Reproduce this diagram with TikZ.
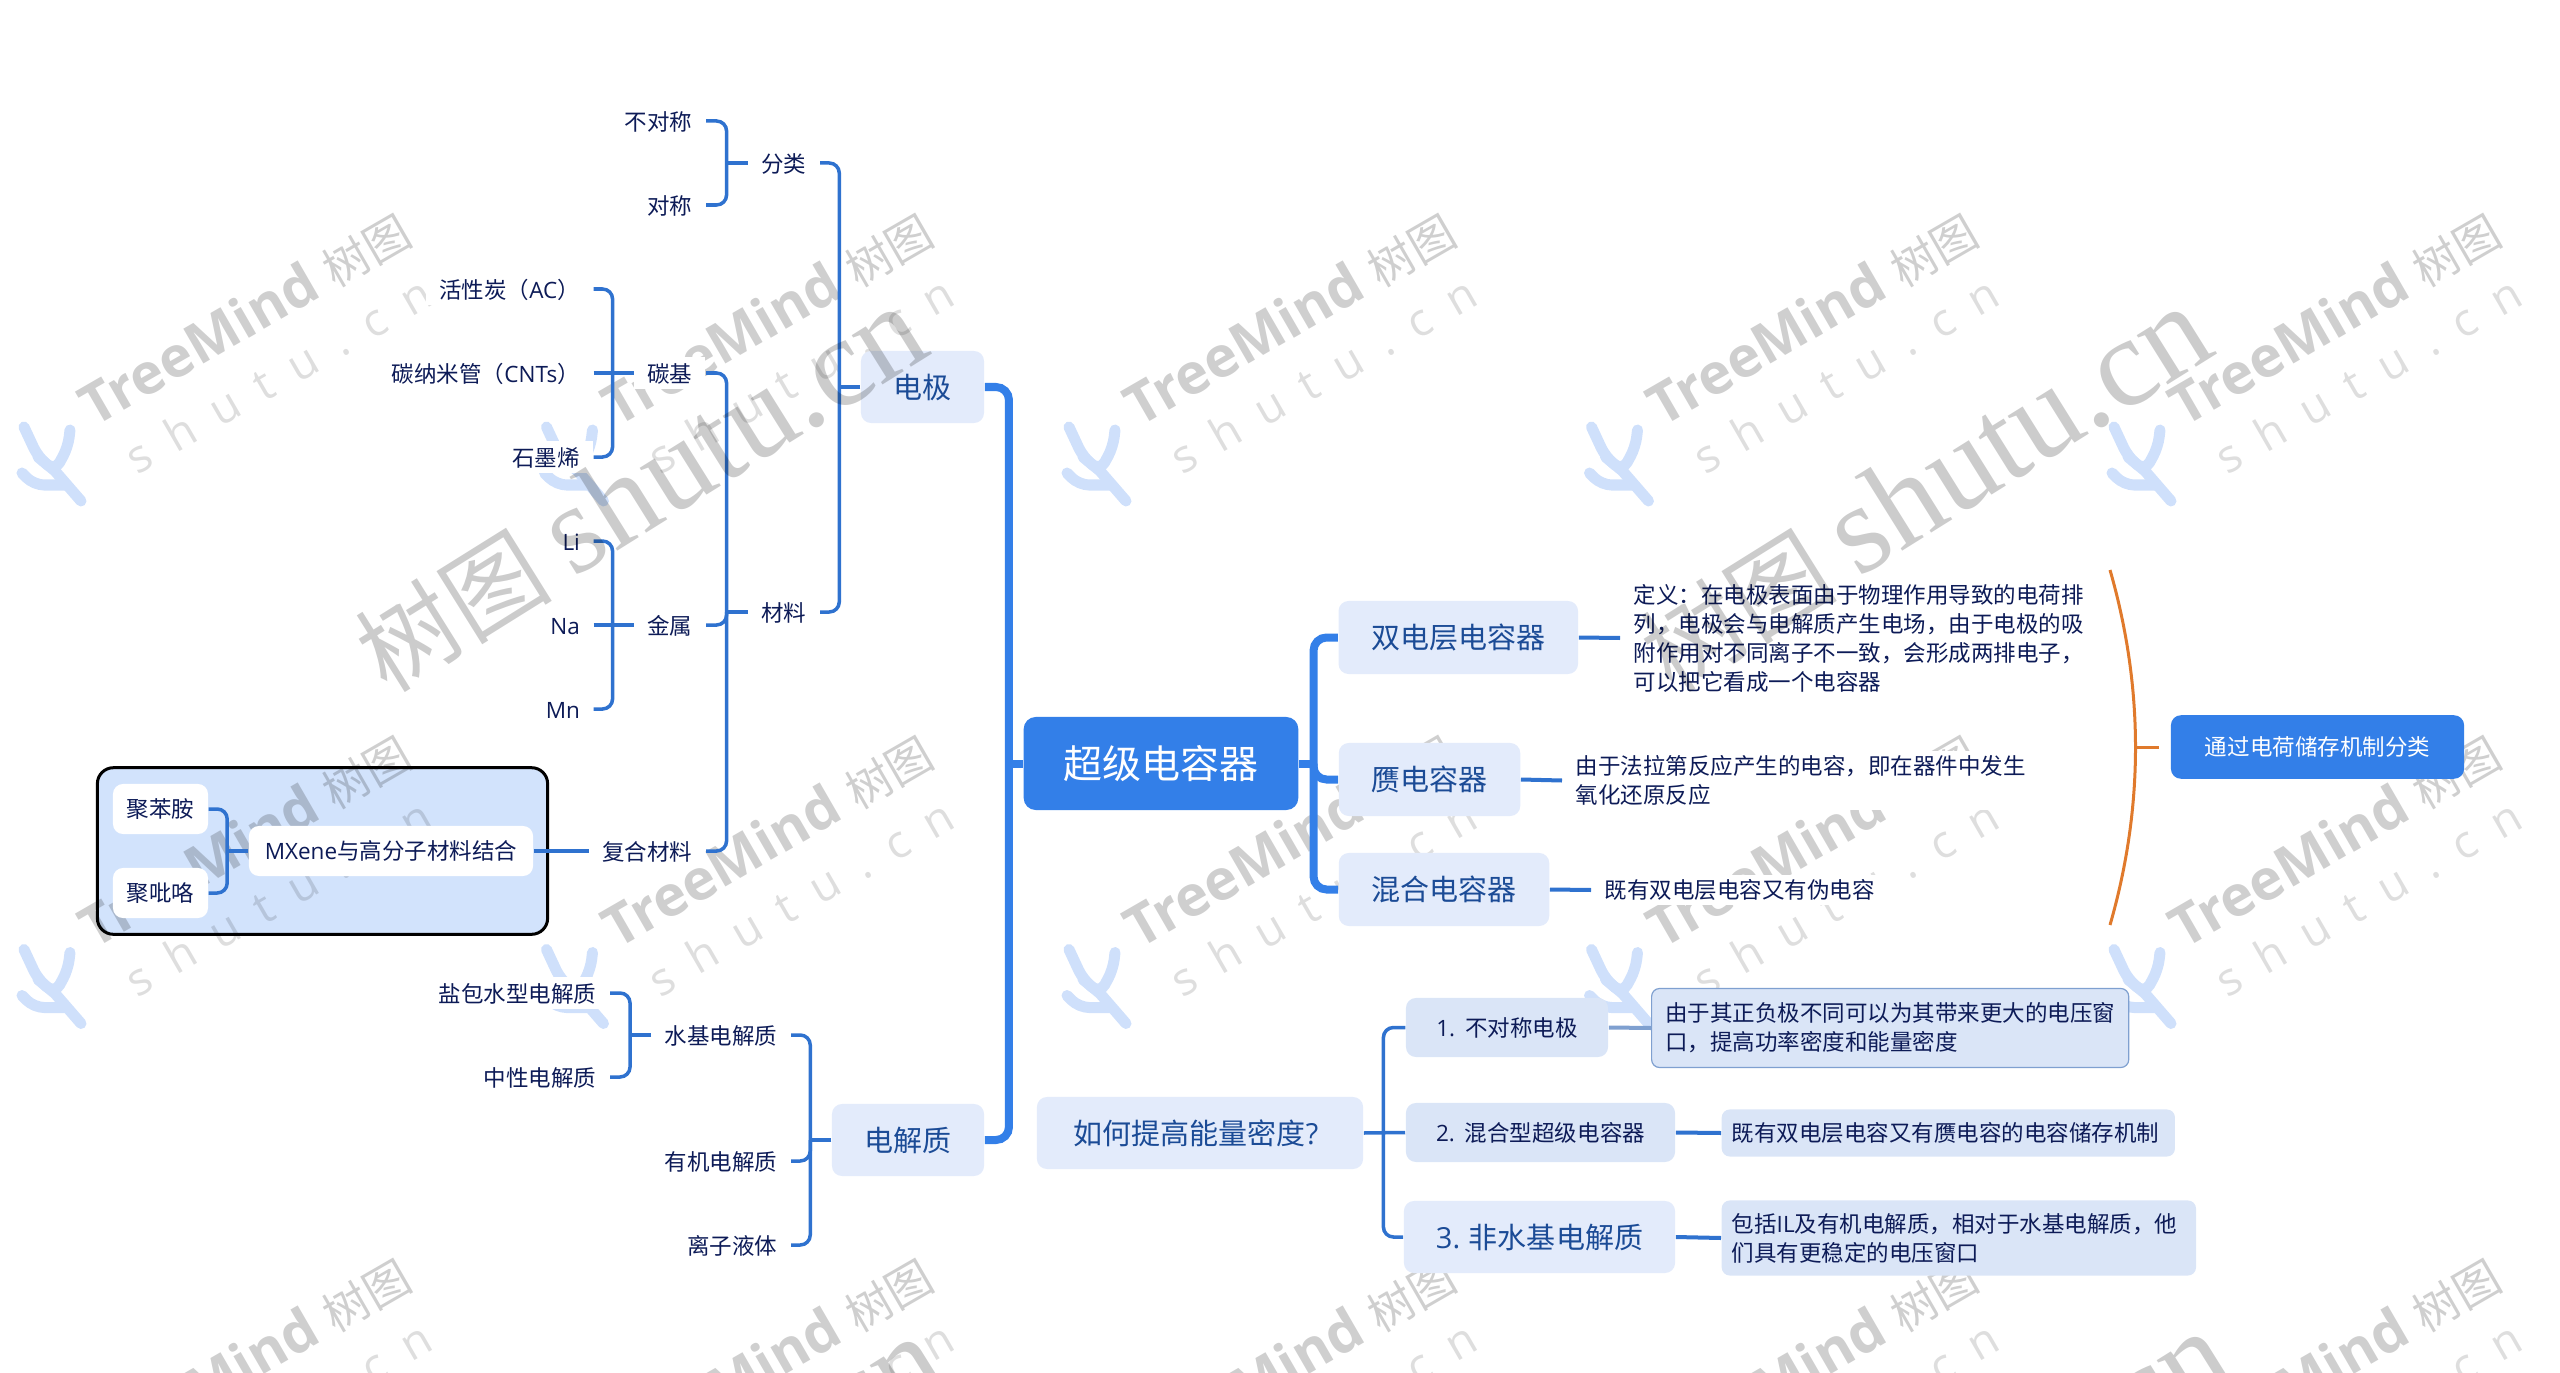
\documentclass[tikz,border=0pt]{standalone}
\usepackage{fontspec}
\setmainfont{Noto Sans CJK SC}
\newfontfamily\opensans{Open Sans}
\newfontfamily\wmspaced[LetterSpace=50]{Open Sans}
\newfontfamily\wmserif{Liberation Serif}
\usetikzlibrary{arrows.meta,positioning,calc}
\definecolor{navy}{HTML}{0D1B57}
\definecolor{inkblue}{HTML}{1B4B96}
\definecolor{mainblue}{HTML}{337FE8}
\definecolor{linkblue}{HTML}{2F72CF}
\definecolor{pale}{HTML}{E3EBFB}
\definecolor{paler}{HTML}{DAE5F7}
\definecolor{frameblue}{HTML}{D2E3FC}
\definecolor{logoblue}{HTML}{CFE0FB}
\definecolor{edge}{HTML}{7FA0D0}
\definecolor{amber}{HTML}{E07A2C}
\tikzset{
leaf/.style={fill=white,text=navy,inner xsep=.13cm,inner ysep=.04cm,text height=6pt,text depth=.6pt,font=\fontsize{6.4pt}{8.25pt}\selectfont},
note/.style={leaf,align=left,text height=,text depth=},
topic/.style={fill=pale,rounded corners=.1cm,text=inkblue,inner sep=0pt,align=center,font=\fontsize{8.25pt}{10pt}\selectfont},
numbox/.style={topic,fill=paler,text=navy,font=\fontsize{6.4pt}{8.25pt}\selectfont},
detail/.style={fill=paler,rounded corners=.08cm,text=navy,inner xsep=.135cm,inner ysep=0pt,align=left,font=\fontsize{6.4pt}{8.25pt}\selectfont},
whitebox/.style={fill=white,rounded corners=.1cm,text=navy,inner sep=0pt,font=\fontsize{6.4pt}{8.25pt}\selectfont},
link/.style={draw=linkblue,line width=.035cm,rounded corners=.1cm},
thicklink/.style={draw=mainblue,line width=.08cm,rounded corners=.13cm},
wmark/.style={text=black,text opacity=.19,rotate=30,inner sep=0pt},
wmtail/.style={text=black,text opacity=.13,rotate=30,inner sep=0pt},
wmbigtext/.style={text=black,text opacity=.2,rotate=32,inner sep=0pt}
}
\begin{document}
\begin{tikzpicture}[x=.01cm,y=-.01cm]
\useasboundingbox (0,0) rectangle (2560,1373);
\node[draw=black,line width=.03cm,fill=frameblue,rounded corners=.16cm,minimum width=4.5cm,minimum height=1.665cm,inner sep=0pt] (frame) at (322.5,851) {};
\foreach \col in {0,...,4}{\foreach \row in {0,1,2}{
\node[wmark] (wmtree\col\row) at ({245+522.5*\col},{318+522.5*\row}) {\fontsize{16pt}{20pt}\selectfont\opensans\bfseries TreeMind\ \normalfont\fontsize{13pt}{15pt}\selectfont 树图};
\node[wmtail] (wmsite\col\row) at ({278+522.5*\col},{375+522.5*\row}) {\fontsize{13pt}{15pt}\selectfont\wmspaced shutu.cn};
\begin{scope}[shift={({46+522.5*\col},{465+522.5*\row})}]
\draw[logoblue,line width=.11cm,line cap=round,rounded corners=.1cm] (-22,-38) -- (-8,-8) -- (9,6) -- (22,-18) -- (24,-35);
\draw[logoblue,line width=.11cm,line cap=round] (-8,-8) -- (9,6) -- (35,36);
\draw[logoblue,line width=.11cm,line cap=round,rounded corners=.1cm] (-24,8) -- (-12,20) -- (20,20);
\end{scope}
}}
\node[fill=mainblue,rounded corners=.12cm,text=white,inner sep=0pt,minimum width=2.745cm,minimum height=.93cm,font=\fontsize{11.1pt}{13pt}\selectfont] (root) at (1161,763.5) {超级电容器};
\node[topic,minimum width=1.23cm,minimum height=.72cm] (dianji) at (922.5,387) {电极};
\node[topic,minimum width=1.52cm,minimum height=.72cm] (dianjiezhi) at (908,1140) {电解质};
\foreach \name/\px/\py/\txt in {fenlei/820/163/分类,cailiao/820/612/材料,buduichen/706/121/不对称,duichen/706/205/对称,tanji/706/373/碳基,jinshu/706/625/金属,fuhe/706/851/复合材料,huoxing/593.6/289/活性炭（{\opensans AC}）,cnt/593.6/373/碳纳米管（{\opensans CNTs}）,shimo/593.6/457/石墨烯,li/593.6/541/{\opensans Li},na/593.6/625/{\opensans Na},mn/593.6/709/{\opensans Mn},shuiji/791/1035/水基电解质,youji/791/1161/有机电解质,lizi/791/1245/离子液体,yanbao/610/993/盐包水型电解质,zhongxing/610/1077/中性电解质}
\node[leaf,anchor=east] (\name) at (\px,\py) {\txt};
\node[whitebox,minimum width=.95cm,minimum height=.5cm] (benan) at (160.5,809) {聚苯胺};
\node[whitebox,minimum width=.95cm,minimum height=.5cm] (bilu) at (160.5,893) {聚吡咯};
\node[whitebox,minimum width=2.84cm,minimum height=.5cm] (mxene) at (391,851) {{\opensans MXene}与高分子材料结合};
\node[topic,minimum width=2.394cm,minimum height=.73cm] (shuang) at (1458.3,637.5) {双电层电容器};
\node[topic,minimum width=1.814cm,minimum height=.73cm] (yan) at (1429.5,779.5) {赝电容器};
\node[topic,minimum width=2.104cm,minimum height=.73cm] (hunhe) at (1444,889.5) {混合电容器};
\node[note,anchor=west] (shuangnote) at (1620,638) {定义：在电极表面由于物理作用导致的电荷排\\列，电极会与电解质产生电场，由于电极的吸\\附作用对不同离子不一致，会形成两排电子，\\可以把它看成一个电容器};
\node[note,anchor=west] (yannote) at (1562,780.5) {由于法拉第反应产生的电容，即在器件中发生\\氧化还原反应};
\node[note,anchor=west] (hunhenote) at (1591,890) {既有双电层电容又有伪电容};
\node[topic,minimum width=3.26cm,minimum height=.72cm] (ruhe) at (1200,1133) {\hspace{-.08cm}如何提高能量密度{\opensans ?}};
\node[numbox,minimum width=2.02cm,minimum height=.59cm] (numone) at (1507,1027.5) {{\opensans 1.}\ \ 不对称电极};
\node[numbox,minimum width=2.69cm,minimum height=.59cm] (numtwo) at (1540.5,1132.5) {{\opensans 2.}\ \ 混合型超级电容器};
\node[topic,minimum width=2.71cm,minimum height=.72cm] (numthree) at (1539.5,1237) {{\opensans 3.} 非水基电解质};
\node[detail,draw=edge,line width=.012cm,minimum height=.79cm,anchor=west] (oneinfo) at (1651,1028) {由于其正负极不同可以为其带来更大的电压窗\\口，提高功率密度和能量密度};
\node[detail,inner xsep=.1cm,text width=4.33cm,minimum height=.47cm,anchor=west] (twoinfo) at (1721,1133) {既有双电层电容又有赝电容的电容储存机制};
\node[detail,inner xsep=.1cm,text width=4.54cm,minimum height=.75cm,anchor=west] (threeinfo) at (1721,1238) {包括{\opensans IL}及有机电解质，相对于水基电解质，他\\们具有更稳定的电压窗口};
\node[fill=mainblue,rounded corners=.1cm,text=white,inner sep=0pt,minimum width=2.93cm,minimum height=.635cm,font=\fontsize{6.4pt}{8.25pt}\selectfont] (mechanism) at (2317.5,747) {通过电荷储存机制分类};
\foreach \parent/\first/\last in {fenlei/buduichen/duichen,tanji/huoxing/shimo,jinshu/li/mn,shuiji/yanbao/zhongxing}{
\draw[link] (\parent.west) -- ++(-21,0) coordinate (bus\parent);
\draw[link] (\first.east) -| (bus\parent) |- (\last.east);
}
\draw[link] (dianji.west) -- ++(-21,0) coordinate (busdianji);
\draw[link] (fenlei.east) -| (busdianji) |- (cailiao.east);
\draw[link] (cailiao.west) -- ++(-21,0) coordinate (buscailiao);
\draw[link] (tanji.east) -| (buscailiao) |- (fuhe.east);
\draw[link] (jinshu.east) -| (buscailiao);
\draw[link] (cnt.east) -- (bustanji);
\draw[link] (na.east) -- (busjinshu);
\draw[link] (mxene.east) -- (fuhe.west);
\draw[link] (mxene.west) -- ++(-21,0) coordinate (busmxene);
\draw[link] (benan.east) -| (busmxene) |- (bilu.east);
\draw[link] (dianjiezhi.west) -- ++(-21,0) coordinate (busjie);
\draw[link] (shuiji.east) -| (busjie) |- (lizi.east);
\draw[link] (youji.east) -| (busjie);
\draw[thicklink] (root.west) -- ++(-14,0) coordinate (busleft);
\draw[thicklink] (dianji.east) -| (busleft) |- (dianjiezhi.east);
\draw[thicklink] (root.east) -- ++(14.5,0) coordinate (busright);
\draw[thicklink] (shuang.west) -| (busright) |- (hunhe.west);
\draw[thicklink] (yan.west) -| (busright);
\foreach \from/\to in {shuang/shuangnote,yan/yannote,hunhe/hunhenote,numtwo/twoinfo,numthree/threeinfo}
\draw[link,line width=.04cm] (\from.east) -- (\to.west);
\draw[link,draw=edge,line width=.04cm] (numone.east) -- (oneinfo.west);
\draw[link] (ruhe.east) -- (numtwo.west);
\coordinate (busruhe) at (ruhe.east -| 1383.4,0);
\draw[link] (numone.west) -| (busruhe) |- (numthree.west);
\coordinate (bracetop) at (2110,570);
\coordinate (bracebot) at (2110,925);
\draw[amber,line width=.03cm] (bracetop) .. controls (2144,688) and (2144,807) .. (bracebot);
\draw[amber,line width=.03cm] (mechanism.west) ++(-11,0) -- ++(-24,0);
\foreach \bx/\by in {640/490,1925/490,658/1520,1945/1515}
\node[wmbigtext] (wmbig\bx) at (\bx,\by) {\fontsize{28pt}{36pt}\selectfont 树图 \wmserif\fontsize{36pt}{36pt}\selectfont shutu.cn};
\end{tikzpicture}
\end{document}
